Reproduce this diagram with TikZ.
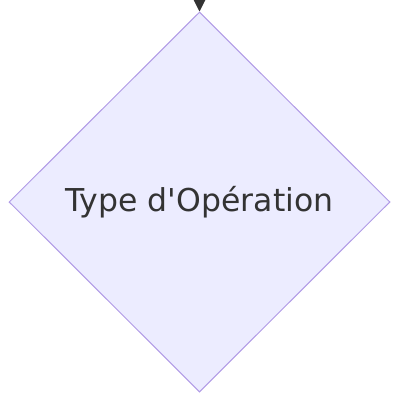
\documentclass[tikz,border=0pt]{standalone}
\usepackage{fontspec}
\newfontfamily\labelfont{DejaVu Sans}
\usetikzlibrary{shapes.geometric,arrows.meta}
\definecolor{nodefill}{HTML}{ECECFF}
\definecolor{nodeline}{HTML}{B09AE6}
\definecolor{ink}{HTML}{333333}
\tikzset{
  decision/.style={diamond, draw=nodeline, fill=nodefill, line width=1pt,
    minimum width=381pt, minimum height=380pt, inner sep=0pt, text=ink,
    font=\labelfont\fontsize{31.5}{36}\selectfont},
  flow/.style={draw=ink, line width=1pt, -{Triangle[length=12pt,width=12pt]}}
}
\begin{document}
\begin{tikzpicture}[x=1pt,y=-1pt]
\useasboundingbox (0,0) rectangle (398,394);
\node[decision] (d) at (199.5,202) {Type d'Opération};
\coordinate (in) at (199.5,0);
\draw[flow] (in) -- (d.north);
\end{tikzpicture}
\end{document}
